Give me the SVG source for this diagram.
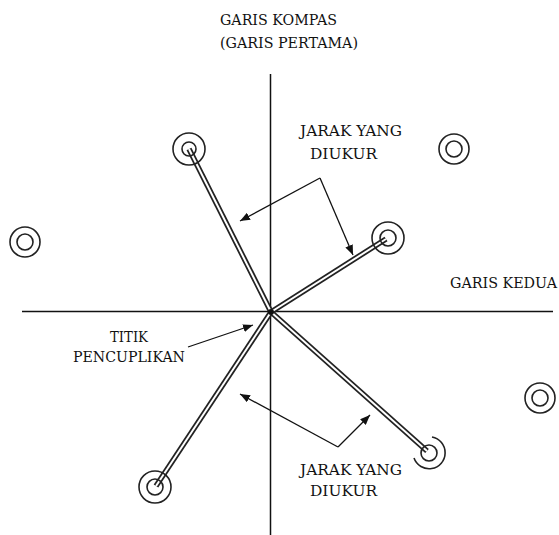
<svg xmlns="http://www.w3.org/2000/svg" width="559" height="535" viewBox="0 0 559 535">
<style>
  .lbl { font-family: 'DejaVu Serif', 'Liberation Serif', serif; font-size: 14px; fill: #111; }
  .axis { stroke: #111; stroke-width: 1.5; fill: none; }
  .ring { stroke: #222; stroke-width: 1.6; fill: none; }
  .dblo { stroke: #222; stroke-width: 5.5; stroke-linecap: butt; fill: none; }
  .dbli { stroke: #fff; stroke-width: 2; stroke-linecap: butt; fill: none; }
  .arr { stroke: #111; stroke-width: 1.3; fill: none; marker-end: url(#ah); }
</style>
<defs>
  <marker id="ah" viewBox="0 0 10 8" refX="10" refY="4" markerWidth="10" markerHeight="8" markerUnits="userSpaceOnUse" orient="auto">
    <path d="M0,0 L10,4 L0,8 Z" fill="#111"/>
  </marker>
</defs>
<rect width="559" height="535" fill="#fff"/>

<g id="axes">
  <line class="axis" x1="270.5" y1="74" x2="270.5" y2="535"/>
  <line class="axis" x1="22" y1="311.5" x2="553" y2="311.5"/>
</g>

<g id="connectors">
  <g id="measure-lines">
    <line class="dblo" x1="271" y1="312" x2="189" y2="149"/>
    <line class="dblo" x1="271" y1="312" x2="386" y2="239"/>
    <line class="dblo" x1="271" y1="312" x2="156" y2="486"/>
    <line class="dblo" x1="271" y1="312" x2="427" y2="451"/>
    <line class="dbli" x1="271" y1="312" x2="189" y2="149"/>
    <line class="dbli" x1="271" y1="312" x2="386" y2="239"/>
    <line class="dbli" x1="271" y1="312" x2="156" y2="486"/>
    <line class="dbli" x1="271" y1="312" x2="427" y2="451"/>
  </g>
  <line class="arr" x1="188" y1="347" x2="253" y2="325"/>
  <line class="arr" x1="320" y1="178" x2="240" y2="221"/>
  <line class="arr" x1="320" y1="178" x2="353" y2="255"/>
  <line class="arr" x1="338" y1="447" x2="240" y2="394"/>
  <line class="arr" x1="338" y1="447" x2="370" y2="415"/>
</g>

<g id="center">
  <circle cx="271" cy="312" r="3" fill="#111"/>
</g>

<g id="point-top-left">
  <circle class="ring" cx="189" cy="149" r="16"/>
  <circle class="ring" cx="189" cy="149" r="7"/>
</g>
<g id="point-right">
  <circle class="ring" cx="388" cy="238" r="16"/>
  <circle class="ring" cx="388" cy="238" r="8"/>
</g>
<g id="point-bottom-left">
  <circle class="ring" cx="155" cy="487" r="16"/>
  <circle class="ring" cx="155" cy="487" r="8"/>
</g>
<g id="point-bottom-right">
  <path class="ring" d="M432,437 A16,16 0 1 1 414,458"/>
  <circle class="ring" cx="429" cy="453" r="8"/>
</g>
<g id="point-far-top-right">
  <circle class="ring" cx="454" cy="149" r="15"/>
  <circle class="ring" cx="454" cy="149" r="8"/>
</g>
<g id="point-far-left">
  <circle class="ring" cx="25" cy="242" r="15"/>
  <circle class="ring" cx="25" cy="242" r="8"/>
</g>
<g id="point-far-right">
  <circle class="ring" cx="540" cy="398" r="15"/>
  <circle class="ring" cx="540" cy="398" r="8"/>
</g>

<g id="labels">
  <text class="lbl" x="220" y="25" textLength="117" lengthAdjust="spacingAndGlyphs">GARIS KOMPAS</text>
  <text class="lbl" x="220" y="48" textLength="138" lengthAdjust="spacingAndGlyphs">(GARIS PERTAMA)</text>
  <text class="lbl" x="450" y="288" textLength="107" lengthAdjust="spacingAndGlyphs">GARIS KEDUA</text>
  <text class="lbl" x="300" y="136" textLength="102" lengthAdjust="spacingAndGlyphs">JARAK YANG</text>
  <text class="lbl" x="310" y="159" textLength="67" lengthAdjust="spacingAndGlyphs">DIUKUR</text>
  <text class="lbl" x="110" y="342" textLength="38" lengthAdjust="spacingAndGlyphs">TITIK</text>
  <text class="lbl" x="73" y="362" textLength="112" lengthAdjust="spacingAndGlyphs">PENCUPLIKAN</text>
  <text class="lbl" x="300" y="475" textLength="102" lengthAdjust="spacingAndGlyphs">JARAK YANG</text>
  <text class="lbl" x="310" y="496" textLength="67" lengthAdjust="spacingAndGlyphs">DIUKUR</text>
</g>
</svg>
